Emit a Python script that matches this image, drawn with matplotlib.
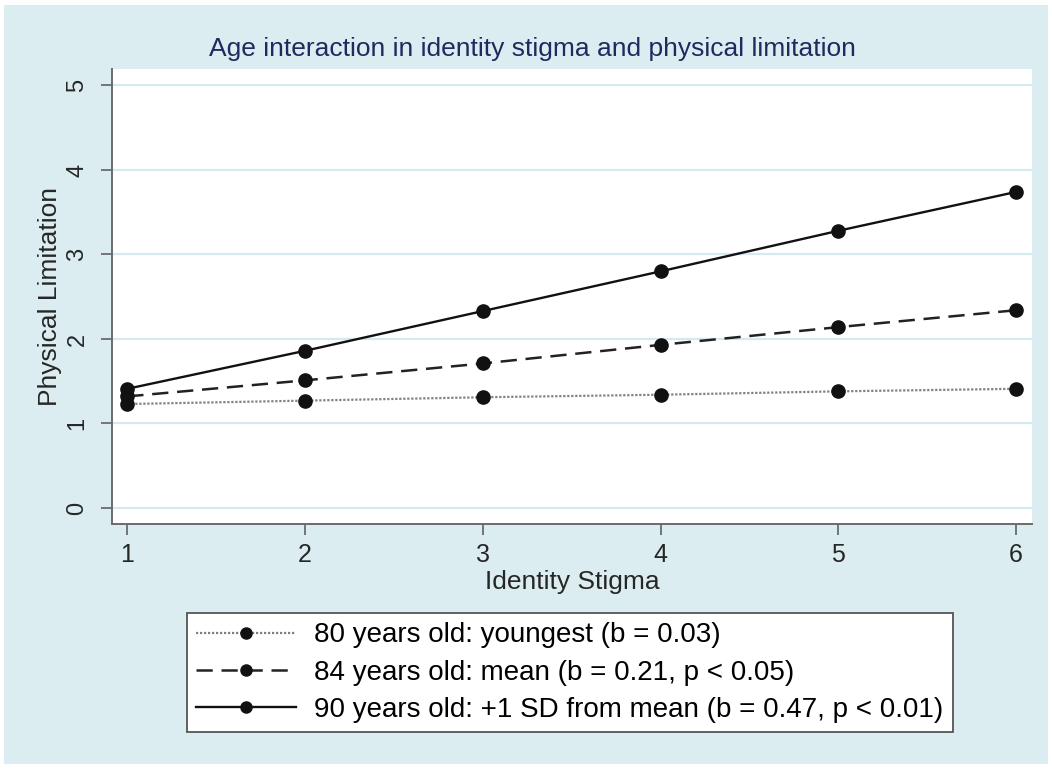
import matplotlib
matplotlib.use("Agg")
import matplotlib.pyplot as plt
from matplotlib.patches import Rectangle

plt.rcParams['font.family'] = ['Liberation Sans', 'DejaVu Sans']

x = [1, 2, 3, 4, 5, 6]
youngest = [1.23, 1.27, 1.31, 1.34, 1.38, 1.41]
mean_age = [1.32, 1.51, 1.71, 1.93, 2.14, 2.34]
plus_sd = [1.41, 1.86, 2.33, 2.80, 3.28, 3.74]
labels = ["80 years old: youngest (b = 0.03)",
          "84 years old: mean (b = 0.21, p < 0.05)",
          "90 years old: +1 SD from mean (b = 0.47, p < 0.01)"]
yticks = [0, 1, 2, 3, 4, 5]
xticks = [1, 2, 3, 4, 5, 6]

bg = "#dcedf1"
fig = plt.figure(figsize=(10.52, 7.68), dpi=100, facecolor="white")
fig.patches.append(Rectangle((4/1052, 4/768), 1 - 8/1052, 1 - 9/768,
                             transform=fig.transFigure, facecolor=bg,
                             edgecolor="none", zorder=-10))

ax = fig.add_axes([112/1052, 1 - 524/768, (1032-112)/1052, (524-69)/768])
ax.set_facecolor("white")
ax.set_xlim(0.914, 6.09)
ax.set_ylim(-0.19, 5.195)

for yv in yticks:
    ax.axhline(yv, color="#d5eaf0", lw=1.6, zorder=0)

l1, = ax.plot(x, youngest, color="#808080", lw=1.6, ls=(0, (1, 0.8)),
              marker="o", ms=9.5, mfc="#111111", mec="#111111", zorder=3)
l2, = ax.plot(x, mean_age, color="#222222", lw=1.8, ls=(0, (6.5, 3.5)),
              marker="o", ms=9.5, mfc="#111111", mec="#111111", zorder=3)
l3, = ax.plot(x, plus_sd, color="#111111", lw=1.7, ls="-",
              marker="o", ms=9.5, mfc="#111111", mec="#111111", zorder=3)

for s in ["top", "right"]:
    ax.spines[s].set_visible(False)
for s in ["left", "bottom"]:
    ax.spines[s].set_color("#6b6b6b")
    ax.spines[s].set_linewidth(1.4)

ax.set_yticks(yticks)
ax.set_xticks(xticks)
ax.tick_params(axis="x", direction="out", length=8, width=1.3,
               color="#6b6b6b", labelsize=18, labelcolor="#262626", pad=6)
ax.tick_params(axis="y", direction="out", length=8, width=1.3,
               color="#6b6b6b", labelsize=17, labelcolor="#262626", pad=9)
for t in ax.get_yticklabels():
    t.set_rotation(90)
    t.set_va("center")

ax.set_xlabel("Identity Stigma", fontsize=19, color="#262626", labelpad=2)
ax.set_ylabel("Physical Limitation", fontsize=19, color="#262626", labelpad=3)

fig.text(532/1052, 1 - 49/768, "Age interaction in identity stigma and physical limitation",
         ha="center", va="center", fontsize=19, color="#1f2a5e")

leg = fig.legend([l1, l2, l3], labels, loc="center",
                 bbox_to_anchor=((183+957)/2/1052, 1 - 672.5/768),
                 fontsize=20, frameon=True, fancybox=False, edgecolor="#555555",
                 facecolor="white", framealpha=1.0,
                 handlelength=3.6, handletextpad=0.65, borderpad=0.35,
                 labelspacing=0.4, borderaxespad=0)
leg.get_frame().set_linewidth(1.3)
for h in leg.legend_handles:
    h.set_markersize(8)

fig.savefig("out.png", dpi=100, facecolor="white")
